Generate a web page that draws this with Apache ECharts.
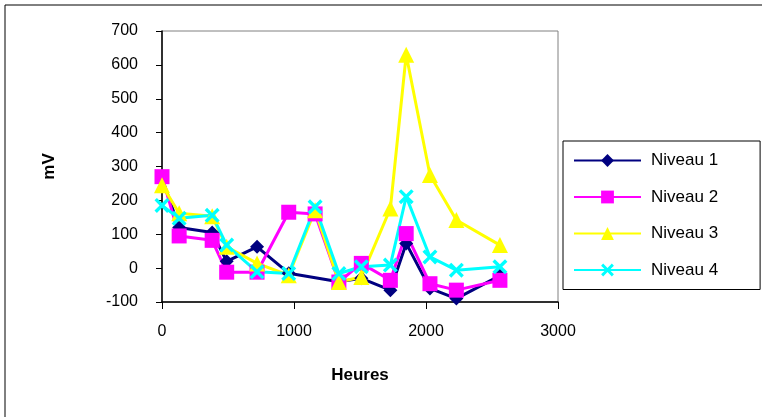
<!DOCTYPE html>
<html>
<head>
<meta charset="utf-8">
<script src="https://cdn.jsdelivr.net/npm/echarts@6/dist/echarts.min.js"></script>
<style>
  html, body { margin: 0; padding: 0; background: #fff; }
  #chart { width: 762px; height: 417px; }
</style>
</head>
<body>
<div id="chart"></div>
<script>
// heures de mesure (axe X)
const HEURES = [0, 130, 380, 490, 720, 960, 1160, 1340, 1510, 1730, 1850, 2030, 2230, 2560];
// valeurs en mV, null = pas de mesure
const NIVEAU_1 = [265, 120, 105, 20, 63, -15, null, -40, -30, -65, 73, -60, -90, -22];
const NIVEAU_2 = [270, 95, 82, -12, -12, 165, 160, -41, 14, -36, 102, -46, -65, -36];
const NIVEAU_3 = [245, 162, 153, 63, 14, -21, 171, -41, -26, 176, 630, 275, 142, 68];
const NIVEAU_4 = [185, 147, 156, 68, -11, -16, 181, -16, 4, 9, 211, 33, -6, 4];

const NOMS = ['Niveau 1', 'Niveau 2', 'Niveau 3', 'Niveau 4'];
const COULEURS = ['#000080', '#FF00FF', '#FFFF00', '#00FFFF'];
const SYMBOLES = [
  'diamond',
  'rect',
  'triangle',
  'path://M0,1.6L1.6,0L5,3.4L8.4,0L10,1.6L6.6,5L10,8.4L8.4,10L5,6.6L1.6,10L0,8.4L3.4,5Z'
];
const TAILLES = [14, 15, 16, 15];
const SERIES = [NIVEAU_1, NIVEAU_2, NIVEAU_3, NIVEAU_4];

const chart = echarts.init(document.getElementById('chart'));

const FONT = 'Liberation Sans, Arial, sans-serif';

chart.setOption({
  animation: false,
  backgroundColor: '#fff',
  graphic: [{
    type: 'rect',
    shape: { x: 5, y: 5, width: 800, height: 500 },
    style: { fill: 'none', stroke: '#000', lineWidth: 1 },
    silent: true
  }],
  grid: {
    left: 162, right: 204, top: 31, bottom: 115,
    show: true, borderColor: '#808080', borderWidth: 1
  },
  legend: {
    orient: 'vertical',
    left: 563, top: 141,
    padding: [11, 42, 11, 10],
    itemWidth: 67, itemHeight: 16, itemGap: 19.5,
    borderColor: '#000', borderWidth: 1,
    backgroundColor: '#fff',
    data: NOMS,
    textStyle: { fontFamily: FONT, fontSize: 17, color: '#000', padding: [0, 0, 0, 5] }
  },
  xAxis: {
    type: 'value',
    min: 0, max: 3000, interval: 1000,
    name: 'Heures',
    nameLocation: 'middle', nameGap: 65,
    nameTextStyle: { fontFamily: FONT, fontSize: 17, fontWeight: 'bold', color: '#000' },
    axisLine: { onZero: false, lineStyle: { color: '#000', width: 1.5 } },
    axisTick: { show: true, length: 7, lineStyle: { color: '#000' } },
    axisLabel: {
      fontFamily: FONT, fontSize: 16, color: '#000', margin: 22,
      formatter: v => String(v)
    },
    splitLine: { show: false }
  },
  yAxis: {
    type: 'value',
    min: -100, max: 700, interval: 100,
    name: 'mV',
    nameLocation: 'middle', nameGap: 104,
    nameTextStyle: { fontFamily: FONT, fontSize: 17, fontWeight: 'bold', color: '#000' },
    axisLine: { show: true, onZero: false, lineStyle: { color: '#000', width: 1.5 } },
    axisTick: { show: true, length: 6, lineStyle: { color: '#000' } },
    axisLabel: {
      fontFamily: FONT, fontSize: 16, color: '#000', margin: 24,
      formatter: v => String(v)
    },
    splitLine: { show: false }
  },
  series: SERIES.map((vals, i) => ({
    name: NOMS[i],
    type: 'line',
    data: HEURES.map((h, j) => vals[j] === null ? null : [h, vals[j]]).filter(p => p !== null),
    symbol: SYMBOLES[i],
    symbolSize: TAILLES[i],
    showAllSymbol: true,
    color: COULEURS[i],
    lineStyle: { color: COULEURS[i], width: 3 },
    itemStyle: { color: COULEURS[i], opacity: 1 }
  }))
});
</script>
</body>
</html>
